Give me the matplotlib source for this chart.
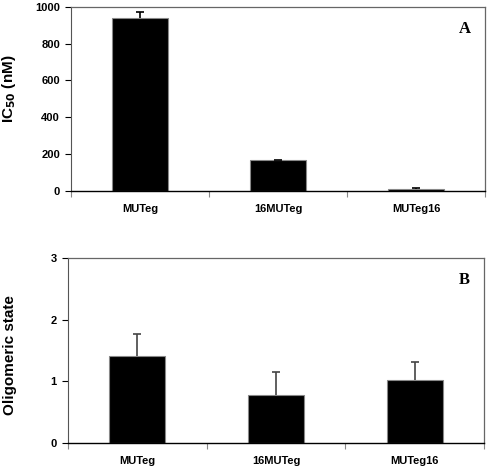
import matplotlib
matplotlib.use("Agg")
import matplotlib.pyplot as plt

categories = ["MUTeg", "16MUTeg", "MUTeg16"]
ic50 = [937, 165, 8]
ic50_err = [36, 4, 8]
oligo = [1.41, 0.78, 1.02]
oligo_err = [0.36, 0.365, 0.29]

plt.rcParams['font.family'] = ['Liberation Sans', 'DejaVu Sans']
plt.rcParams['font.weight'] = 'bold'

W, H = 490, 468
fig = plt.figure(figsize=(4.9, 4.68), dpi=100)

def make_ax(left, right, top, bottom):
    return fig.add_axes([left / W, 1 - bottom / H, (right - left) / W, (bottom - top) / H])

axA = make_ax(71, 485, 6.7, 190.7)
axB = make_ax(67.7, 484.3, 258.3, 442.7)

def style(ax, vals, errs, ylim, yticks, ylabel, letter, errcolor):
    x = range(len(categories))
    ax.bar(x, vals, width=0.40, color='black', edgecolor='#888888', linewidth=0.8, zorder=2)
    eb = ax.errorbar(x, vals, yerr=[[0] * len(vals), errs], fmt='none', ecolor=errcolor,
                     elinewidth=1.2, capsize=3, capthick=1.2, zorder=3)
    caps = eb[1]
    if len(caps) >= 1:
        caps[0].set_visible(False)
    ax.set_xlim(-0.5, len(categories) - 0.5)
    ax.set_ylim(*ylim)
    ax.set_yticks(yticks)
    ax.set_yticklabels([str(t) for t in yticks], fontsize=8, fontweight='bold')
    ax.set_xticks([-0.5, 0.5, 1.5, 2.5])
    ax.set_xticklabels([])
    ax.set_xticks(list(x), minor=True)
    ax.set_xticklabels(categories, minor=True, fontsize=8, fontweight='bold')
    ax.tick_params(axis='x', which='minor', length=0, pad=9.5)
    ax.tick_params(axis='x', which='major', length=4, direction='out', color='#888888')
    ax.tick_params(axis='y', length=4, direction='out', pad=4)
    for s in ['top', 'right']:
        ax.spines[s].set_color('#666666')
        ax.spines[s].set_linewidth(0.9)
    ax.spines['left'].set_color('#555555')
    ax.spines['bottom'].set_color('black')
    ax.spines['bottom'].set_linewidth(1.0)
    ax.set_ylabel(ylabel, fontsize=11, fontweight='bold')
    ax.text(0.952, 0.88, letter, transform=ax.transAxes, fontsize=12, fontweight='bold',
            family='Liberation Serif', ha='center', va='center')

style(axA, ic50, ic50_err, (0, 1000), [0, 200, 400, 600, 800, 1000], r'IC$_{\mathbf{50}}$ (nM)', 'A', 'black')
style(axB, oligo, oligo_err, (0, 3), [0, 1, 2, 3], 'Oligomeric state', 'B', '#444444')

axA.yaxis.set_label_coords(-(71 - 18) / 414, 0.553)
axB.yaxis.set_label_coords(-(67.7 - 17) / 416.6, 0.473)

fig.savefig("out.png", dpi=100)
